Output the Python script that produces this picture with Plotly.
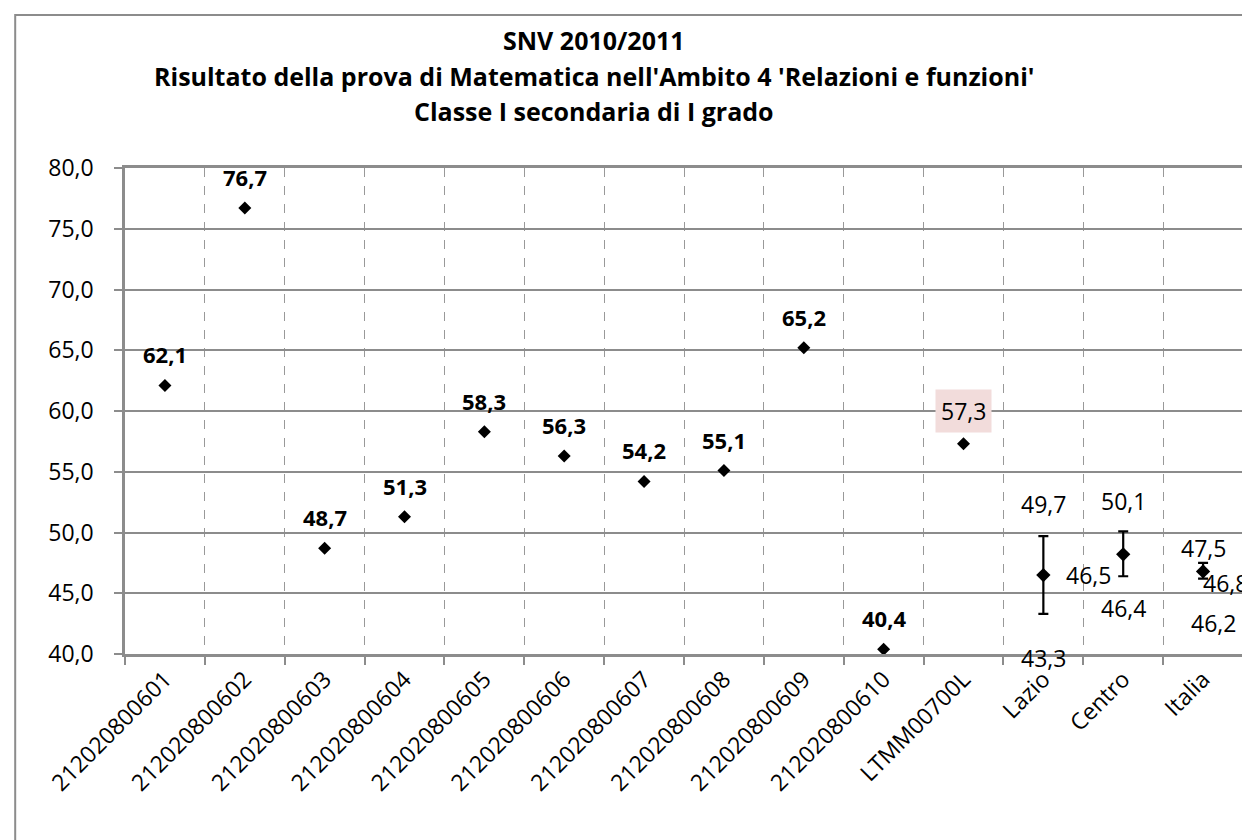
import plotly.graph_objects as go

# ---------------- data ----------------
categories = ["212020800601", "212020800602", "212020800603", "212020800604",
              "212020800605", "212020800606", "212020800607", "212020800608",
              "212020800609", "212020800610", "LTMM00700L", "Lazio", "Centro", "Italia"]
class_cats = categories[:10]
class_vals = [62.1, 76.7, 48.7, 51.3, 58.3, 56.3, 54.2, 55.1, 65.2, 40.4]
school_cat = ["LTMM00700L"]
school_val = [57.3]
area_cats = ["Lazio", "Centro", "Italia"]
area_mean = [46.5, 48.2, 46.8]
area_upper = [49.7, 50.1, 47.5]
area_lower = [43.3, 46.4, 46.2]
y_tick_vals = [40, 45, 50, 55, 60, 65, 70, 75, 80]
title_lines = ["SNV 2010/2011",
               "Risultato della prova di Matematica nell'Ambito 4 'Relazioni e funzioni'",
               "Classe I secondaria di I grado"]

# ---------------- layout constants ----------------
W, H = 1250, 840
ML, MR, MT, MB = 117, 13, 160, 194
PW = W - ML - MR
PH = H - MT - MB
FONT = "Open Sans"
GRID = "#8c8c8c"
LBL = 23


def fmt(v):
    return f"{v:.1f}".replace(".", ",")


def px_to_paper_y(py):
    return (H - MB - py) / PH


def px_to_paper_x(px):
    return (px - ML) / PW


def cidx(c):
    return categories.index(c)


fig = go.Figure()

fig.add_trace(go.Scatter(
    x=class_cats, y=class_vals, mode="markers",
    marker=dict(symbol="diamond", size=10, color="black"),
    showlegend=False, cliponaxis=False))

fig.add_trace(go.Scatter(
    x=school_cat, y=school_val, mode="markers",
    marker=dict(symbol="diamond", size=10, color="black"),
    showlegend=False, cliponaxis=False))

fig.add_trace(go.Scatter(
    x=area_cats, y=area_mean, mode="markers",
    marker=dict(symbol="diamond", size=11, color="black"),
    error_y=dict(type="data", symmetric=False,
                 array=[u - m for u, m in zip(area_upper, area_mean)],
                 arrayminus=[m - l for m, l in zip(area_mean, area_lower)],
                 color="black", thickness=2.2, width=5),
    showlegend=False, cliponaxis=False))

annotations = []
for c, v in zip(class_cats, class_vals):
    annotations.append(dict(x=cidx(c), y=v, xref="x", yref="y", text=f"<b>{fmt(v)}</b>",
                            showarrow=False, yshift=31, yanchor="middle",
                            font=dict(family=FONT, size=LBL - 1, color="black")))
for c, v in zip(school_cat, school_val):
    annotations.append(dict(x=cidx(c), y=v, xref="x", yref="y", text=fmt(v),
                            showarrow=False, yshift=33, yanchor="middle",
                            bgcolor="#F2DCDB", borderpad=5,
                            font=dict(family=FONT, size=LBL, color="black")))

upper_shift = [32, 30, 15]
lower_shift = [-44, -32, -44]
lower_x = [0, 0, 10]
mean_show = [True, False, True]
mean_shift = [(45, 0), (0, 0), (22, -12)]
for i, c in enumerate(area_cats):
    xi = cidx(c)
    annotations.append(dict(x=xi, y=area_upper[i], xref="x", yref="y", text=fmt(area_upper[i]),
                            showarrow=False, yshift=upper_shift[i], yanchor="middle",
                            font=dict(family=FONT, size=LBL, color="black")))
    annotations.append(dict(x=xi, y=area_lower[i], xref="x", yref="y", text=fmt(area_lower[i]),
                            showarrow=False, yshift=lower_shift[i], xshift=lower_x[i],
                            yanchor="middle",
                            font=dict(family=FONT, size=LBL, color="black")))
    if mean_show[i]:
        annotations.append(dict(x=xi, y=area_mean[i], xref="x", yref="y", text=fmt(area_mean[i]),
                                showarrow=False, xshift=mean_shift[i][0], yshift=mean_shift[i][1],
                                yanchor="middle",
                                font=dict(family=FONT, size=LBL, color="black")))

for line, py in zip(title_lines, [32, 68, 103]):
    annotations.append(dict(x=px_to_paper_x(587), y=px_to_paper_y(py), xref="paper", yref="paper",
                            text=f"<b>{line}</b>", showarrow=False, xanchor="center",
                            yanchor="middle",
                            font=dict(family=FONT, size=25, color="black")))

shapes = [dict(type="rect", xref="paper", yref="paper",
               x0=px_to_paper_x(7), x1=px_to_paper_x(1248.5),
               y0=px_to_paper_y(900), y1=px_to_paper_y(7),
               line=dict(color="#8c8c8c", width=2), fillcolor="rgba(0,0,0,0)", layer="below")]

fig.update_layout(
    width=W, height=H,
    margin=dict(l=ML, r=MR, t=MT, b=MB),
    paper_bgcolor="white", plot_bgcolor="white",
    separators=",.",
    font=dict(family=FONT, size=22, color="black"),
    annotations=annotations,
    shapes=shapes,
    showlegend=False,
)

fig.update_xaxes(
    type="category", categoryorder="array", categoryarray=categories,
    range=[-0.5, len(categories) - 0.5],
    tickson="boundaries", ticks="outside", ticklen=8, tickcolor=GRID, tickwidth=2,
    showgrid=True, gridcolor="#999999", gridwidth=1, griddash="dash",
    showline=True, linecolor=GRID, linewidth=2.5, mirror=True,
    tickangle=-45, tickfont=dict(family=FONT, size=23, color="black"),
    fixedrange=True,
)
fig.update_yaxes(
    range=[40, 80], tickvals=y_tick_vals, tickformat=".1f",
    ticks="outside", ticklen=8, tickcolor=GRID, tickwidth=2,
    showgrid=True, gridcolor=GRID, gridwidth=2,
    showline=True, linecolor=GRID, linewidth=2.5, mirror=True,
    zeroline=False, ticklabelstandoff=16,
    tickfont=dict(family=FONT, size=23, color="black"),
    fixedrange=True,
)

fig.write_html("out.html")
